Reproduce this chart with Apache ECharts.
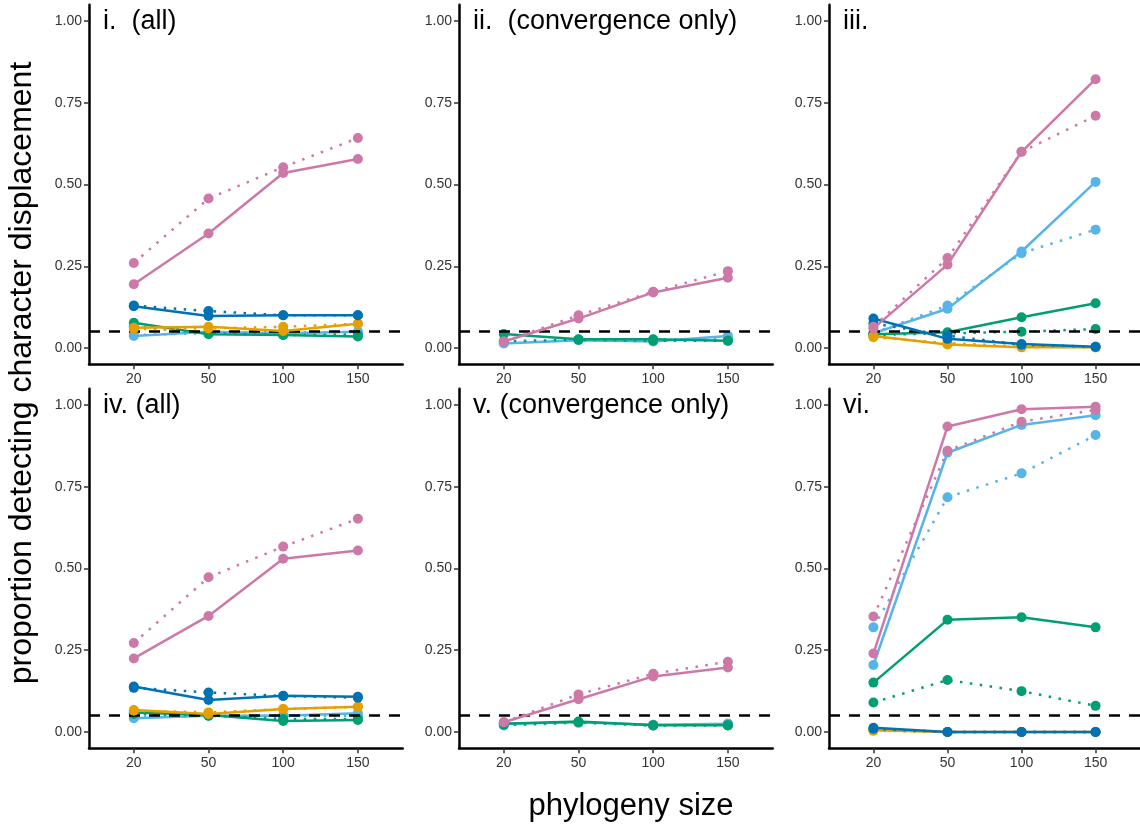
<!DOCTYPE html>
<html><head><meta charset="utf-8">
<script src="https://cdn.jsdelivr.net/npm/echarts@6/dist/echarts.min.js"></script>
<style>html,body{margin:0;padding:0;background:#fff}#c{width:1140px;height:828px}</style>
</head><body><div id="c"></div>
<script>
// ---------- data ----------
const sizes = ['20', '50', '100', '150'];
const yTicks = [0, 0.25, 0.5, 0.75, 1];
const panelTitles = ['i.  (all)', 'ii.  (convergence only)', 'iii.', 'iv. (all)', 'v. (convergence only)', 'vi.'];
const xTitle = 'phylogeny size';
const yTitle = 'proportion detecting character displacement';
const threshold = 0.05;

// panel i
const p1_pink = [0.195, 0.35, 0.535, 0.578];
const p1_pinkDot = [0.26, 0.457, 0.553, 0.642];
const p1_darkblue = [0.128, 0.098, 0.10, 0.10];
const p1_darkblueDot = [0.13, 0.113, 0.10, 0.10];
const p1_orange = [0.062, 0.065, 0.052, 0.074];
const p1_orangeDot = [0.058, 0.06, 0.065, 0.074];
const p1_green = [0.077, 0.042, 0.04, 0.035];
const p1_greenDot = [0.066, 0.045, 0.04, 0.04];
const p1_lightblue = [0.037, 0.05, 0.045, 0.05];
const p1_lightblueDot = [0.04, 0.045, 0.05, 0.045];
// panel ii
const p2_pink = [0.02, 0.09, 0.17, 0.215];
const p2_pinkDot = [0.02, 0.10, 0.172, 0.235];
const p2_green = [0.043, 0.027, 0.027, 0.022];
const p2_greenDot = [0.021, 0.025, 0.022, 0.022];
const p2_lightblue = [0.014, 0.024, 0.02, 0.037];
const p2_lightblueDot = [0.015, 0.025, 0.025, 0.03];
// panel iii
const p3_pink = [0.06, 0.255, 0.60, 0.822];
const p3_pinkDot = [0.065, 0.275, 0.60, 0.71];
const p3_lightblue = [0.045, 0.12, 0.295, 0.508];
const p3_lightblueDot = [0.045, 0.13, 0.29, 0.362];
const p3_green = [0.042, 0.048, 0.094, 0.137];
const p3_greenDot = [0.04, 0.045, 0.05, 0.058];
const p3_darkblue = [0.09, 0.028, 0.012, 0.004];
const p3_darkblueDot = [0.075, 0.038, 0.01, 0.004];
const p3_orange = [0.037, 0.011, 0.002, 0.002];
const p3_orangeDot = [0.033, 0.015, 0.005, 0.002];
// panel iv
const p4_pink = [0.225, 0.355, 0.53, 0.555];
const p4_pinkDot = [0.272, 0.473, 0.567, 0.652];
const p4_darkblue = [0.139, 0.098, 0.111, 0.108];
const p4_darkblueDot = [0.135, 0.121, 0.11, 0.105];
const p4_orange = [0.067, 0.055, 0.07, 0.077];
const p4_orangeDot = [0.065, 0.06, 0.07, 0.077];
const p4_green = [0.06, 0.052, 0.034, 0.037];
const p4_greenDot = [0.055, 0.05, 0.04, 0.04];
const p4_lightblue = [0.042, 0.05, 0.05, 0.057];
const p4_lightblueDot = [0.045, 0.05, 0.05, 0.05];
// panel v
const p5_pink = [0.03, 0.10, 0.17, 0.197];
const p5_pinkDot = [0.03, 0.115, 0.178, 0.215];
const p5_green = [0.025, 0.032, 0.021, 0.021];
const p5_greenDot = [0.022, 0.03, 0.02, 0.02];
const p5_lightblue = [0.025, 0.03, 0.022, 0.025];
const p5_lightblueDot = [0.02, 0.028, 0.02, 0.025];
// panel vi
const p6_pink = [0.24, 0.934, 0.987, 0.995];
const p6_pinkDot = [0.353, 0.86, 0.949, 0.985];
const p6_lightblue = [0.205, 0.854, 0.939, 0.969];
const p6_lightblueDot = [0.32, 0.718, 0.791, 0.908];
const p6_green = [0.151, 0.343, 0.351, 0.32];
const p6_greenDot = [0.09, 0.159, 0.125, 0.08];
const p6_darkblue = [0.013, 0.0, 0.0, 0.0];
const p6_darkblueDot = [0.01, 0.0, 0.0, 0.0];
const p6_orange = [0.005, 0.0, 0.0, 0.0];
const p6_orangeDot = [0.004, 0.0, 0.0, 0.0];

const panels = [
  {pink: p1_pink, pinkDot: p1_pinkDot, darkblue: p1_darkblue, darkblueDot: p1_darkblueDot, orange: p1_orange, orangeDot: p1_orangeDot, green: p1_green, greenDot: p1_greenDot, lightblue: p1_lightblue, lightblueDot: p1_lightblueDot},
  {pink: p2_pink, pinkDot: p2_pinkDot, green: p2_green, greenDot: p2_greenDot, lightblue: p2_lightblue, lightblueDot: p2_lightblueDot},
  {pink: p3_pink, pinkDot: p3_pinkDot, darkblue: p3_darkblue, darkblueDot: p3_darkblueDot, orange: p3_orange, orangeDot: p3_orangeDot, green: p3_green, greenDot: p3_greenDot, lightblue: p3_lightblue, lightblueDot: p3_lightblueDot},
  {pink: p4_pink, pinkDot: p4_pinkDot, darkblue: p4_darkblue, darkblueDot: p4_darkblueDot, orange: p4_orange, orangeDot: p4_orangeDot, green: p4_green, greenDot: p4_greenDot, lightblue: p4_lightblue, lightblueDot: p4_lightblueDot},
  {pink: p5_pink, pinkDot: p5_pinkDot, green: p5_green, greenDot: p5_greenDot, lightblue: p5_lightblue, lightblueDot: p5_lightblueDot},
  {pink: p6_pink, pinkDot: p6_pinkDot, darkblue: p6_darkblue, darkblueDot: p6_darkblueDot, orange: p6_orange, orangeDot: p6_orangeDot, green: p6_green, greenDot: p6_greenDot, lightblue: p6_lightblue, lightblueDot: p6_lightblueDot}
];

// ---------- styling / layout ----------
const colors = {pink: '#CC79A7', lightblue: '#56B4E9', darkblue: '#0072B2', green: '#009E73', orange: '#E69F00'};
const zOrder = {lightblue: 2, green: 3, orange: 5, darkblue: 6, pink: 7};
const drawOrder = ['lightblue', 'green', 'orange', 'darkblue', 'pink'];
const FONT = '"Liberation Sans", Arial, Helvetica, sans-serif';
const colLeft = [89, 459, 829];
const rowTop = [4.65, 388.65];
const gw = 313.7, gh = 359.7;

const grids = [], xAxes = [], yAxes = [], series = [], graphics = [];
panels.forEach((p, k) => {
  const c = k % 3, r = Math.floor(k / 3);
  grids.push({left: colLeft[c], top: rowTop[r], width: gw, height: gh, containLabel: false});
  xAxes.push({
    gridIndex: k, type: 'value', min: 0.4, max: 4.6,
    axisLine: {show: true, onZero: false, lineStyle: {color: '#000', width: 2.5}},
    axisTick: {show: true, customValues: [1, 2, 3, 4], length: 5, lineStyle: {color: '#333', width: 1.5}},
    axisLabel: {show: true, customValues: [1, 2, 3, 4], margin: 8, color: '#333', fontSize: 14, fontFamily: FONT,
      formatter: v => sizes[Math.round(v) - 1] || ''},
    splitLine: {show: false}
  });
  yAxes.push({
    gridIndex: k, type: 'value', min: -0.05, max: 1.05,
    axisLine: {show: true, onZero: false, lineStyle: {color: '#000', width: 2.5}},
    axisTick: {show: true, customValues: yTicks, length: 5, lineStyle: {color: '#333', width: 1.5}},
    axisLabel: {show: true, customValues: yTicks, margin: 7, color: '#333', fontSize: 14, fontFamily: FONT,
      formatter: v => Number(v).toFixed(2)},
    splitLine: {show: false}
  });
  drawOrder.forEach(col => {
    if (!p[col]) return;
    [[col + 'Dot', [2.5, 7.5]], [col, 'solid']].forEach(([key, lt]) => {
      const s = {
        type: 'line', xAxisIndex: k, yAxisIndex: k, z: zOrder[col],
        data: p[key].map((v, i) => [i + 1, v]),
        symbol: 'circle', symbolSize: 10, showSymbol: true,
        itemStyle: {color: colors[col]},
        lineStyle: {color: colors[col], width: 2.5, type: lt, cap: 'butt'},
        emphasis: {disabled: true}, silent: true
      };
      if (key === 'green') {
        s.markLine = {
          silent: true, symbol: 'none', z: 4, label: {show: false},
          lineStyle: {color: '#000', width: 2.5, type: [11, 9]},
          data: [{yAxis: threshold}]
        };
      }
      series.push(s);
    });
  });
  graphics.push({
    type: 'text', x: colLeft[c] + 14, y: rowTop[r] + 17, z: 100,
    style: {text: panelTitles[k], font: '27px ' + FONT, fill: '#000', textVerticalAlign: 'middle', textAlign: 'left'}
  });
});
graphics.push({
  type: 'text', x: 631, y: 806, z: 100,
  style: {text: xTitle, font: '31px ' + FONT, fill: '#000', textAlign: 'center', textVerticalAlign: 'middle'}
});
graphics.push({
  type: 'text', x: 22, y: 373, rotation: Math.PI / 2, z: 100,
  style: {text: yTitle, font: '32px ' + FONT, fill: '#000', textAlign: 'center', textVerticalAlign: 'middle'}
});

const chart = echarts.init(document.getElementById('c'), null, {renderer: 'canvas'});
chart.setOption({
  animation: false,
  backgroundColor: '#fff',
  grid: grids, xAxis: xAxes, yAxis: yAxes, series: series, graphic: graphics
});
</script></body></html>
